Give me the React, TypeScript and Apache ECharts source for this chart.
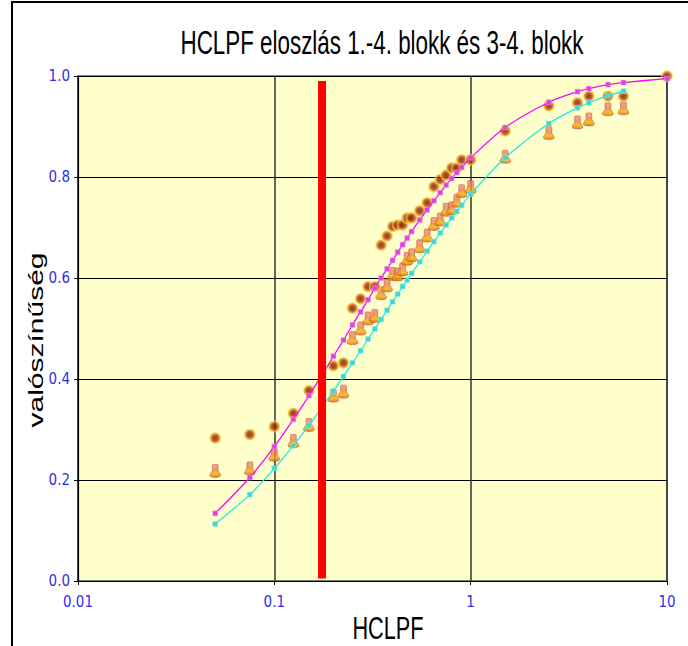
import React, { useEffect, useRef } from "react";
import * as echarts from "echarts";

// HCLPF values (x axis, log scale)
const hclpf = [0.05, 0.075, 0.1, 0.125, 0.15, 0.175, 0.2, 0.225, 0.25, 0.275, 0.3, 0.325, 0.35, 0.375, 0.4, 0.425, 0.45, 0.475, 0.5, 0.55, 0.6, 0.65, 0.7, 0.75, 0.8, 0.85, 0.9, 1.0, 1.5, 2.5, 3.5, 4, 5, 6, 10];
// fitted curve, 1.-4. blokk (magenta)
const fit14 = [0.134, 0.205, 0.266, 0.32, 0.367, 0.408, 0.445, 0.477, 0.507, 0.533, 0.557, 0.58, 0.6, 0.618, 0.635, 0.651, 0.666, 0.679, 0.692, 0.715, 0.735, 0.753, 0.769, 0.784, 0.797, 0.809, 0.819, 0.838, 0.898, 0.948, 0.969, 0.975, 0.983, 0.987, 0.995];
// fitted curve, 3-4. blokk (cyan)
const fit34 = [0.113, 0.171, 0.223, 0.268, 0.308, 0.344, 0.376, 0.405, 0.432, 0.456, 0.479, 0.499, 0.518, 0.536, 0.553, 0.568, 0.583, 0.596, 0.609, 0.632, 0.653, 0.672, 0.689, 0.705, 0.719, 0.732, 0.744, 0.766, 0.838, 0.906, 0.937, 0.947, 0.961, 0.97, null];
// empirical points, 1.-4. blokk (brown dots)
const emp14 = [0.283, 0.29, 0.306, 0.332, 0.377, null, 0.426, 0.432, 0.54, 0.559, 0.583, 0.583, 0.665, 0.683, 0.702, 0.705, 0.705, 0.719, 0.719, 0.733, 0.749, 0.781, 0.795, 0.804, 0.818, 0.818, 0.834, 0.834, 0.891, 0.941, 0.947, 0.96, 0.96, 0.96, 1.0];
// empirical points, 3-4. blokk (orange cones)
const emp34 = [0.218, 0.223, 0.25, 0.277, 0.309, null, 0.367, 0.375, 0.481, 0.5, 0.52, 0.525, 0.57, 0.585, 0.608, 0.607, 0.617, 0.638, 0.645, 0.663, 0.684, 0.707, 0.716, 0.735, 0.738, 0.753, 0.772, 0.78, 0.84, 0.887, 0.908, 0.914, 0.934, 0.936, null];
// vertical reference line
const refX = 0.175;
const refY = [0.005, 0.99];

const titleText = "HCLPF eloszlás 1.-4. blokk és 3-4. blokk";
const xName = "HCLPF";
const yName = "valószínűség";

const pairs = (ys: (number | null)[]) =>
  hclpf.map((x, i) => [x, ys[i]]).filter((p) => p[1] !== null);

const conePath = "path://M4,0 L8,0 Q9,0 9,1 L9,6 L11.5,9.5 Q12.5,12 6,12 Q-0.5,12 0.5,9.5 L3,6 L3,1 Q3,0 4,0 Z";

export default function App() {
  const ref = useRef<HTMLDivElement>(null);
  useEffect(() => {
    if (!ref.current) return;
    const chart = echarts.init(ref.current, null, { renderer: "svg" });
    const narrow = "'Liberation Sans Narrow', 'DejaVu Sans Condensed', Arial, sans-serif";
    const blue = "#2F2FE8";
    chart.setOption({
      animation: false,
      backgroundColor: "#ffffff",
      grid: {
        left: 78,
        right: 21,
        top: 76,
        bottom: 65,
        show: true,
        backgroundColor: "#FFFFCC",
        borderColor: "#555",
        borderWidth: 1.5,
      },
      xAxis: {
        type: "log",
        logBase: 10,
        min: 0.01,
        max: 10,
        axisLine: { show: true, lineStyle: { color: "#000", width: 1.2 } },
        axisTick: { show: true, length: 4, lineStyle: { color: "#000" } },
        minorTick: { show: false },
        splitLine: { show: true, lineStyle: { color: "#333", width: 1.5 } },
        axisLabel: {
          color: blue,
          fontFamily: narrow,
          fontSize: 15,
          margin: 13,
          formatter: (v: number) => String(v),
        },
      },
      yAxis: {
        type: "value",
        min: 0,
        max: 1,
        interval: 0.2,
        axisLine: { show: true, lineStyle: { color: "#000", width: 1.2 } },
        axisTick: { show: true, length: 4, lineStyle: { color: "#000" } },
        splitLine: { show: true, lineStyle: { color: "#000", width: 1.2 } },
        axisLabel: {
          color: blue,
          fontFamily: narrow,
          fontSize: 15,
          margin: 8,
          formatter: (v: number) => v.toFixed(1),
        },
      },
      graphic: [
        {
          type: "rect",
          shape: { x: 12, y: 2, width: 800, height: 800 },
          style: { fill: "none", stroke: "#000", lineWidth: 2 },
          silent: true,
          z: 100,
        },
        {
          type: "text",
          x: 382,
          y: 43,
          scaleY: 1.45,
          style: {
            text: titleText,
            fontFamily: "'Liberation Sans', Arial, sans-serif",
            fontSize: 22.4,
            fill: "#000",
            align: "center",
            verticalAlign: "middle",
          },
        },
        {
          type: "text",
          x: 388,
          y: 629,
          scaleY: 1.45,
          style: {
            text: xName,
            fontFamily: "'Liberation Sans', Arial, sans-serif",
            fontSize: 21.7,
            fill: "#000",
            align: "center",
            verticalAlign: "middle",
          },
        },
        {
          type: "text",
          x: 36,
          y: 340,
          rotation: Math.PI / 2,
          scaleX: 1.5,
          style: {
            text: yName,
            fontFamily: "'Liberation Sans', Arial, sans-serif",
            fontSize: 20,
            fill: "#000",
            align: "center",
            verticalAlign: "middle",
          },
        },
      ],
      series: [
        {
          name: "3-4. blokk",
          type: "scatter",
          data: pairs(emp34),
          symbol: conePath,
          symbolSize: [11, 13],
          itemStyle: {
            color: new echarts.graphic.LinearGradient(0, 0, 0, 1, [
              { offset: 0, color: "#E8907A" },
              { offset: 0.45, color: "#E8804E" },
              { offset: 0.72, color: "#F5B000" },
              { offset: 1, color: "#D8641E" },
            ]),
            borderColor: "rgba(190,70,40,0.75)",
            borderWidth: 0.8,
          },
          z: 2,
        },
        {
          name: "1.-4. blokk",
          type: "scatter",
          data: pairs(emp14),
          symbol: "circle",
          symbolSize: 13,
          itemStyle: {
            color: new echarts.graphic.RadialGradient(0.5, 0.5, 0.5, [
              { offset: 0, color: "#7A1400" },
              { offset: 0.35, color: "#962A02" },
              { offset: 0.55, color: "#C45A0C" },
              { offset: 0.75, color: "#EDB030" },
              { offset: 0.9, color: "rgba(250,220,100,0.6)" },
              { offset: 1, color: "rgba(255,240,160,0)" },
            ]),
          },
          z: 3,
        },
        {
          name: "illesztés 1.-4.",
          type: "line",
          data: pairs(fit14),
          smooth: 0.3,
          symbol: "rect",
          symbolSize: 5,
          showSymbol: true,
          lineStyle: { color: "#FF00FF", width: 1.3 },
          itemStyle: { color: "#DD44DD", borderColor: "#F0A0F0", borderWidth: 0.5 },
          z: 4,
        },
        {
          name: "illesztés 3-4.",
          type: "line",
          data: pairs(fit34),
          smooth: 0.3,
          symbol: "rect",
          symbolSize: 5,
          showSymbol: true,
          lineStyle: { color: "#1EEAEA", width: 1.3 },
          itemStyle: { color: "#40D8CC", borderColor: "#90F0F0", borderWidth: 0.5 },
          z: 4,
        },
        {
          name: "HCLPF határ",
          type: "line",
          data: refY.map((y) => [refX, y]),
          symbol: "none",
          lineStyle: { color: "#FF0000", width: 8, cap: "butt" },
          z: 6,
        },
      ],
    });
    return () => chart.dispose();
  }, []);
  return (
    <div
      ref={ref}
      style={{ position: "fixed", left: 0, top: 0, width: 688, height: 646 }}
    />
  );
}
